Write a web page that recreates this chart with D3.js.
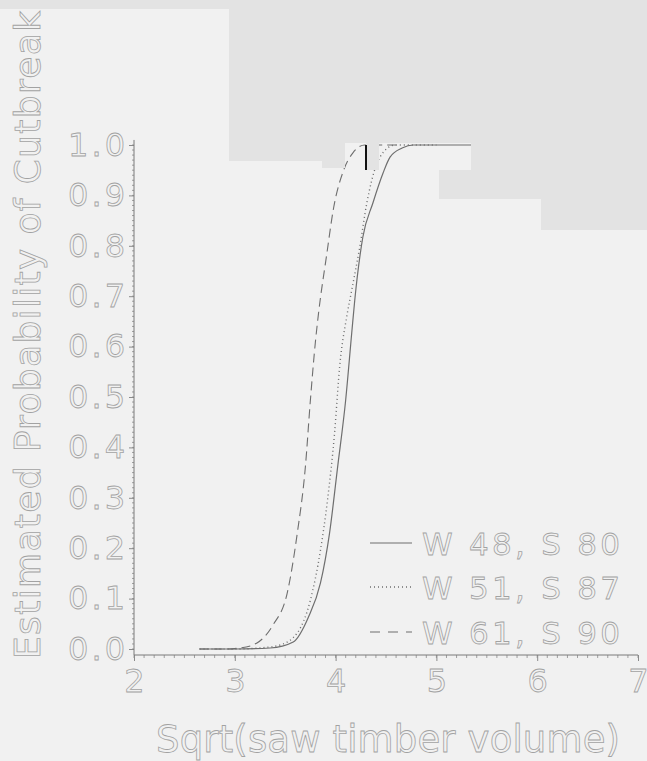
<!DOCTYPE html>
<html lang="en">
<head>
<meta charset="utf-8">
<title>cutbreak probability</title>
<script src="https://cdn.jsdelivr.net/npm/d3@7/dist/d3.min.js"></script>
<style>
  body { margin: 0; background: #f1f1f1; }
  svg { display: block; }
</style>
</head>
<body>
<div id="chart"></div>
<script>
// series: sqrt(saw timber volume) vs estimated probability
var xW48 = [2.65, 3.0, 3.35, 3.58, 3.73, 3.85, 3.94, 4.02, 4.10, 4.16, 4.19, 4.27, 4.37, 4.47, 4.54, 4.66, 4.77, 5.34, 5.6]
var pW48 = [0, 0, 0.002, 0.014, 0.063, 0.131, 0.23, 0.361, 0.494, 0.627, 0.692, 0.817, 0.885, 0.944, 0.976, 0.994, 1.0, 1.0, 1.0]

var xW51 = [2.65, 3.0, 3.3, 3.45, 3.62, 3.75, 3.85, 3.92, 3.99, 4.04, 4.11, 4.16, 4.24, 4.31, 4.36, 4.44, 4.59, 5.0]
var pW51 = [0, 0, 0.003, 0.008, 0.032, 0.097, 0.196, 0.296, 0.429, 0.56, 0.659, 0.712, 0.798, 0.885, 0.931, 0.976, 1.0, 1.0]

var xW61 = [2.65, 2.9, 3.05, 3.22, 3.38, 3.52, 3.62, 3.70, 3.75, 3.80, 3.83, 3.91, 3.98, 4.08, 4.17, 4.29, 4.6]
var pW61 = [0, 0, 0.002, 0.012, 0.048, 0.111, 0.23, 0.361, 0.494, 0.61, 0.665, 0.78, 0.875, 0.95, 0.984, 1.0, 1.0]

var legendLabels = ["W 48, S 80", "W 51, S 87", "W 61, S 90"]
var xTicks = [2, 3, 4, 5, 6, 7]
var yTicks = [0, 0.1, 0.2, 0.3, 0.4, 0.5, 0.6, 0.7, 0.8, 0.9, 1.0]

// grey patches of the photocopy that cover the top right of the page
var scanPatches = [
  [0, 0, 647, 9],
  [229, 0, 418, 143],
  [229, 143, 116, 18],
  [322, 161, 23, 7],
  [366, 143, 13, 27],
  [471, 143, 176, 27],
  [439, 170, 208, 29],
  [541, 199, 106, 31]
]

var w = 647
var h = 761
var ink = "#a2a2a2"
var lineInk = "#6e6e6e"
var font = "'DejaVu Sans', sans-serif"

var svg = d3.select("#chart").append("svg")
  .attr("width", w)
  .attr("height", h)

svg.append("rect").attr("width", w).attr("height", h).attr("fill", "#f1f1f1")

var xScale = d3.scaleLinear().domain([2, 7]).range([134, 638])
var yScale = d3.scaleLinear().domain([0, 1]).range([649, 145])
var axisY = yScale(0) + 6

function outline(sel) {
  sel.attr("fill", "none")
    .attr("stroke", ink)
    .attr("stroke-width", 0.8)
    .style("font-family", font)
}

// minor ticks
var xMinor = d3.range(2, 7.001, 0.1)
var yMinor = d3.range(0, 1.001, 0.01)

svg.selectAll(".xminor").data(xMinor).enter().append("line")
  .attr("x1", function(d) { return xScale(d) })
  .attr("x2", function(d) { return xScale(d) })
  .attr("y1", axisY)
  .attr("y2", axisY + 3)
  .attr("stroke", "#8a8a8a")
  .attr("stroke-width", 0.8)

svg.selectAll(".yminor").data(yMinor).enter().append("line")
  .attr("x1", xScale(2) - 2)
  .attr("x2", xScale(2))
  .attr("y1", function(d) { return yScale(d) })
  .attr("y2", function(d) { return yScale(d) })
  .attr("stroke", "#8a8a8a")
  .attr("stroke-width", 0.8)

// major axes
var xAxis = d3.axisBottom(xScale).tickValues(xTicks).tickSize(6).tickPadding(8)
  .tickFormat(d3.format("d"))
var yAxis = d3.axisLeft(yScale).tickValues(yTicks).tickSize(5).tickPadding(4)
  .tickFormat(d3.format(".1f"))

var gx = svg.append("g").attr("transform", "translate(0," + axisY + ")").call(xAxis)
var gy = svg.append("g").attr("transform", "translate(" + xScale(2) + ",0)").call(yAxis)

gx.select(".domain").remove()
gy.select(".domain").remove()
gx.selectAll("line").attr("stroke", "#8a8a8a")
gy.selectAll("line").attr("stroke", "#8a8a8a")
gx.selectAll("text").attr("font-size", 32).call(outline)
gy.selectAll("text").attr("font-size", 32).attr("textLength", 57).call(outline)

svg.append("line")
  .attr("x1", xScale(2)).attr("x2", xScale(7))
  .attr("y1", axisY).attr("y2", axisY)
  .attr("stroke", "#7a7a7a").attr("stroke-width", 1)
svg.append("line")
  .attr("x1", xScale(2)).attr("x2", xScale(2))
  .attr("y1", axisY).attr("y2", yScale(1.01))
  .attr("stroke", "#7a7a7a").attr("stroke-width", 1)

// curves
var series = [
  { xs: xW48, ps: pW48, dash: null, width: 1.2 },
  { xs: xW51, ps: pW51, dash: "1,3", width: 1.4 },
  { xs: xW61, ps: pW61, dash: "9,5", width: 1.1 }
]

var line = d3.line()
  .x(function(d) { return xScale(d[0]) })
  .y(function(d) { return yScale(d[1]) })
  .curve(d3.curveMonotoneX)

series.forEach(function(s) {
  var pts = s.xs.map(function(v, i) { return [v, s.ps[i]] })
  svg.append("path")
    .datum(pts)
    .attr("d", line)
    .attr("fill", "none")
    .attr("stroke", lineInk)
    .attr("stroke-width", s.width)
    .attr("stroke-dasharray", s.dash)
})

// legend
var legendX = 422
var legendRows = [555, 599, 644]
legendLabels.forEach(function(lab, i) {
  var s = series[i]
  svg.append("line")
    .attr("x1", legendX - 52).attr("x2", legendX - 10)
    .attr("y1", legendRows[i] - 12).attr("y2", legendRows[i] - 12)
    .attr("stroke", lineInk)
    .attr("stroke-width", s.width)
    .attr("stroke-dasharray", i == 2 ? "10,8" : s.dash)
  svg.append("text")
    .attr("x", legendX).attr("y", legendRows[i])
    .attr("font-size", 31)
    .attr("textLength", 198)
    .attr("lengthAdjust", "spacing")
    .text(lab)
    .call(outline)
})

// axis titles
svg.append("text")
  .attr("x", 388).attr("y", 752)
  .attr("text-anchor", "middle")
  .attr("font-size", 37)
  .attr("textLength", 464)
  .attr("lengthAdjust", "spacing")
  .text("Sqrt(saw timber volume)")
  .call(outline)

svg.append("text")
  .attr("transform", "translate(40,335) rotate(-90)")
  .attr("text-anchor", "middle")
  .attr("font-size", 36)
  .attr("textLength", 648)
  .attr("lengthAdjust", "spacing")
  .text("Estimated Probability of Cutbreak")
  .call(outline)

// photocopy patches on top
svg.selectAll(".patch").data(scanPatches).enter().append("rect")
  .attr("x", function(d) { return d[0] })
  .attr("y", function(d) { return d[1] })
  .attr("width", function(d) { return d[2] })
  .attr("height", function(d) { return d[3] })
  .attr("fill", "#e3e3e3")

// stray mark left by the scan
svg.append("line")
  .attr("x1", 366).attr("x2", 366)
  .attr("y1", 145).attr("y2", 170)
  .attr("stroke", "#111").attr("stroke-width", 2)
</script>
</body>
</html>
